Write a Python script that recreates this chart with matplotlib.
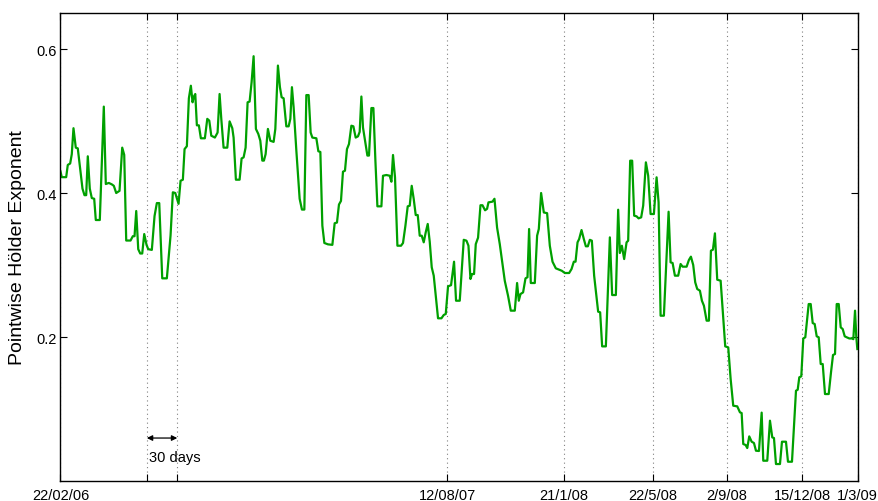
import matplotlib
matplotlib.use("Agg")
import matplotlib.pyplot as plt

plt.rcParams['font.family'] = ['Liberation Sans', 'DejaVu Sans']

# trading-day index (0 = 22/02/06) and pointwise Hölder exponent
days = [0, 1.3, 5.7, 7.3, 9.7, 11.3, 13, 15.3, 17.3, 22, 24, 25.7, 27.3, 29.3, 31.3, 33.7,
        35.3, 39.3, 43.3, 45.3, 48.3, 51.3, 53.3, 55.7, 59, 61.7, 63.7, 65.7, 70, 72.3, 74,
        75.7, 77.7, 79.7, 81.7, 83.7, 86, 87.7, 91.3, 94, 96.3, 98.7, 101.7, 106.3, 110,
        112.3, 114.7, 118, 120, 122.3, 124, 126.3, 128.3, 130.3, 132, 133.3, 134.7, 136.3,
        138.3, 140.3, 144.3, 146.7, 148.7, 150.7, 154.3, 157, 159, 160.7, 163, 166.7, 169,
        171.7, 173, 175.3, 179, 181, 183, 185, 187, 189, 191, 193, 195.3, 197.7, 199.7,
        201.7, 203.3, 205, 207.3, 209.7, 213, 214.7, 217.3, 219.3, 221, 223, 225.7, 228,
        229.7, 231.3, 233, 235.7, 239, 241.3, 243.7, 245.7, 248, 250, 251.7, 255.7, 257.7,
        259.7, 261.7, 263.7, 267.3, 271.7, 274, 276.3, 278.3, 280.3, 282.3, 284.3, 286.3,
        288.3, 290.7, 292.7, 295, 297.3, 299, 300.7, 302.3, 304.7, 306.7, 308.3, 310.7,
        312.7, 314.7, 316.7, 320.7, 322.3, 325.7, 329, 330.7, 332.3, 334.3, 336.7, 340.3,
        342.3, 344.7, 347, 349, 351, 353, 355, 357, 359, 361, 363, 365, 367, 369, 371, 373,
        375, 377.3, 380.7, 383, 385, 387.3, 390.3, 393.3, 395.3, 399, 403, 405.7, 407.7,
        409.7, 411.3, 413.3, 415, 417.3, 419.7, 421.7, 424.3, 426.3, 427.7, 431.7, 433.7,
        436.3, 439, 444, 447.3, 450, 454, 456.3, 458, 459.7, 462.3, 464.7, 466.7, 468.3,
        470, 474, 476.3, 478, 480.3, 483, 486.3, 489, 491.7, 495, 498.3, 501, 504, 508.3,
        510.7, 513, 514.7, 516.7, 518.3, 520.7, 523, 525, 527, 529, 531, 533.3, 537.3,
        539.3, 541.3, 545, 549, 551.3, 555, 557.3, 559, 561, 563.3, 565.7, 567.3, 569.3,
        571.3, 573.3, 575.7, 577.7, 580.3, 582.3, 585, 587.3, 589.7, 593, 595.7, 597.7,
        599.7, 603, 607.7, 609.7, 611.7, 614, 617.3, 619.7, 621.7, 625.7, 628, 630, 632.3,
        634.3, 636.3, 639, 641, 643, 645.7, 648, 650, 652, 654, 656.3, 659.7, 662.3, 664.3,
        667.3, 669.7, 672.3, 676.3, 679, 680.7, 682.3, 684.7, 686.3, 688.3, 690.7, 693, 695,
        698, 700.7, 702.3, 706.3, 709, 711.3, 713, 715, 719, 721, 725, 727, 731, 733, 735,
        736.7, 738.3, 740.3, 742.3, 744.3, 747.7, 749.7, 751.7, 753.7, 755.7, 757.7, 759.7,
        761.7, 764, 767.7, 770, 772, 774, 775.7, 777.7, 779.7, 781.7, 783.7, 785.7, 788.3,
        791, 792.3, 794, 795.3, 796.3]

holder = [0.430, 0.422, 0.422, 0.439, 0.441, 0.454, 0.490, 0.463, 0.462, 0.406, 0.397, 0.397,
          0.451, 0.406, 0.393, 0.392, 0.3625, 0.3625, 0.520, 0.4125, 0.414, 0.412, 0.410,
          0.400, 0.403, 0.463, 0.453, 0.334, 0.334, 0.340, 0.340, 0.375, 0.322, 0.316, 0.316,
          0.343, 0.328, 0.322, 0.321, 0.368, 0.386, 0.386, 0.2815, 0.2815, 0.341, 0.401,
          0.400, 0.385, 0.417, 0.4185, 0.461, 0.465, 0.5315, 0.549, 0.526, 0.534, 0.5375,
          0.494, 0.494, 0.476, 0.476, 0.503, 0.5005, 0.4796, 0.477, 0.484, 0.5375, 0.503,
          0.463, 0.463, 0.4995, 0.490, 0.477, 0.4185, 0.4185, 0.448, 0.4495, 0.463, 0.526,
          0.527, 0.554, 0.590, 0.489, 0.482, 0.4726, 0.445, 0.445, 0.454, 0.489, 0.4726,
          0.471, 0.489, 0.577, 0.547, 0.533, 0.5315, 0.4926, 0.4926, 0.503, 0.547, 0.519,
          0.459, 0.392, 0.377, 0.377, 0.536, 0.536, 0.484, 0.477, 0.476, 0.458, 0.457,
          0.3546, 0.3306, 0.3287, 0.328, 0.358, 0.359, 0.384, 0.389, 0.4296, 0.431, 0.461,
          0.468, 0.4935, 0.4926, 0.477, 0.4787, 0.485, 0.534, 0.491, 0.470, 0.452, 0.452,
          0.518, 0.518, 0.445, 0.3815, 0.3815, 0.424, 0.425, 0.424, 0.4157, 0.4528, 0.4218,
          0.3268, 0.3268, 0.3306, 0.3546, 0.3815, 0.3824, 0.410, 0.3917, 0.3694, 0.3694,
          0.3407, 0.3407, 0.3315, 0.3454, 0.357, 0.3324, 0.2968, 0.2852, 0.2574, 0.226,
          0.226, 0.2306, 0.232, 0.2704, 0.272, 0.3046, 0.2504, 0.2504, 0.335, 0.3338, 0.3268,
          0.2806, 0.2875, 0.2875, 0.329, 0.338, 0.383, 0.383, 0.376, 0.378, 0.387, 0.388,
          0.392, 0.352, 0.329, 0.278, 0.257, 0.2366, 0.2366, 0.275, 0.2504, 0.2597, 0.262,
          0.2815, 0.283, 0.350, 0.275, 0.275, 0.3407, 0.350, 0.400, 0.373, 0.372, 0.3268,
          0.3046, 0.2954, 0.2935, 0.292, 0.2889, 0.2889, 0.2944, 0.3046, 0.3046, 0.3315,
          0.336, 0.3486, 0.336, 0.326, 0.326, 0.335, 0.3338, 0.2852, 0.2352, 0.2343, 0.187,
          0.187, 0.3384, 0.2583, 0.2583, 0.3768, 0.3167, 0.3268, 0.3083, 0.3315, 0.3338,
          0.4449, 0.4449, 0.3685, 0.3676, 0.3648, 0.3662, 0.3824, 0.4426, 0.424, 0.3708,
          0.3708, 0.4218, 0.387, 0.2296, 0.2296, 0.374, 0.3037, 0.3028, 0.2852, 0.2852,
          0.3014, 0.2977, 0.2977, 0.307, 0.3116, 0.300, 0.276, 0.2667, 0.2643, 0.2504,
          0.2435, 0.2227, 0.2227, 0.3199, 0.3213, 0.344, 0.2796, 0.2782, 0.2273, 0.187,
          0.1856, 0.1417, 0.1046, 0.1037, 0.0954, 0.0944, 0.0514, 0.050, 0.0458, 0.062,
          0.0546, 0.0528, 0.0421, 0.0417, 0.095, 0.0282, 0.0282, 0.0838, 0.0606, 0.0597,
          0.0236, 0.0236, 0.0546, 0.0546, 0.0268, 0.0268, 0.0768, 0.1254, 0.1268, 0.144,
          0.1454, 0.198, 0.1996, 0.2458, 0.2458, 0.2194, 0.218, 0.201, 0.1996, 0.1625,
          0.1625, 0.1208, 0.1208, 0.151, 0.175, 0.1764, 0.2458, 0.2458, 0.2134, 0.211, 0.201,
          0.1996, 0.198, 0.198, 0.197, 0.2366, 0.1996, 0.1833]

tick_days = [0, 86.3, 116.7, 386.7, 503.3, 592.3, 666, 741, 796.7]
tick_labels = ['22/02/06', '', '', '12/08/07', '21/1/08', '22/5/08', '2/9/08', '15/12/08', '1/3/09']
ytick_vals = [0.2, 0.4, 0.6]
ytick_labels = ['0.2', '0.4', '0.6']

fig = plt.figure(figsize=(8.79, 5.02), dpi=100)
ax = fig.add_axes([0.0688, 0.0398, 0.9070, 0.9323])

ax.plot(days, holder, color='#00a000', lw=1.6, solid_joinstyle='round')

ax.set_xlim(0, 796.7)
ax.set_ylim(0, 0.65)
ax.set_xticks(tick_days)
ax.set_xticklabels(tick_labels, fontsize=10.5)
ax.set_yticks(ytick_vals)
ax.set_yticklabels(ytick_labels, fontsize=10.5)
ax.tick_params(direction='in', length=5, width=0.8, top=True, right=True, color='black')
ax.tick_params(axis='x', pad=5)
ax.tick_params(axis='y', pad=2.5)
ax.xaxis.grid(True, linestyle=(0, (1, 3)), color='#808080', lw=0.8)
for s in ax.spines.values():
    s.set_linewidth(1.0)
    s.set_color('black')

ax.set_ylabel('Pointwise Hölder Exponent', fontsize=14, labelpad=8)

ax.annotate('', xy=(86.3, 0.0597), xytext=(116.7, 0.0597),
            arrowprops=dict(arrowstyle='<|-|>', color='black', lw=0.9,
                            mutation_scale=8, shrinkA=0, shrinkB=0))
ax.text(88, 0.034, '30 days', fontsize=10.5, ha='left', va='center')

fig.savefig('out.png', dpi=100)
